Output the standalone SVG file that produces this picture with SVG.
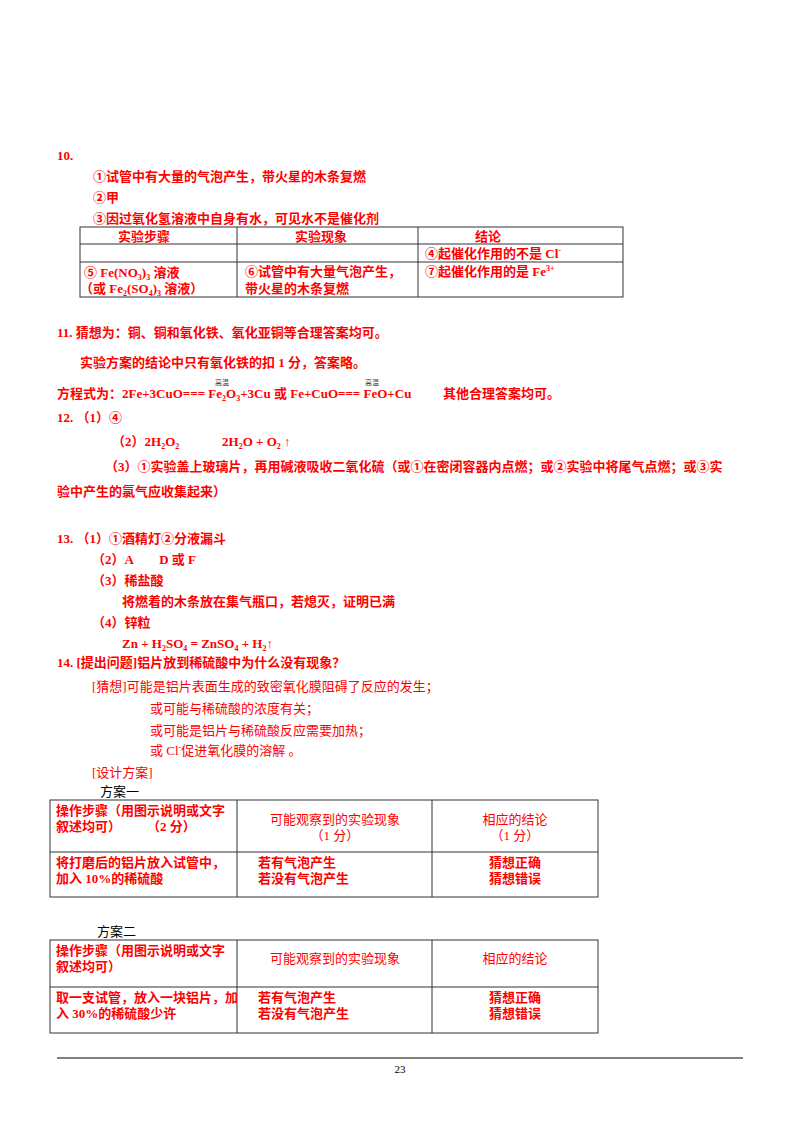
<svg xmlns="http://www.w3.org/2000/svg" width="800" height="1132" viewBox="0 0 800 1132">
<style>
text{font-family:"Liberation Serif","Noto Sans CJK SC",serif;font-size:13px;fill:#f00;font-weight:bold}
.n{font-weight:normal}
.k{fill:#000;font-weight:normal}
.s{font-size:7px;fill:#444;font-weight:normal}
.c{text-anchor:middle}
line,rect{stroke:#333;stroke-width:1;fill:none}
</style>
<rect width="800" height="1132" fill="#fff" style="stroke:none"/>
<g id="q10">
<text x="57" y="160">10.</text>
<text x="93" y="181">①试管中有大量的气泡产生，带火星的木条复燃</text>
<text x="93" y="202">②甲</text>
<text x="93" y="223">③因过氧化氢溶液中自身有水，可见水不是催化剂</text>
</g>
<g id="table1">
<rect x="80" y="227" width="543" height="70"/>
<line x1="80" y1="244" x2="623" y2="244"/>
<line x1="80" y1="262" x2="623" y2="262"/>
<line x1="237" y1="227" x2="237" y2="297"/>
<line x1="418" y1="227" x2="418" y2="297"/>
<text x="118" y="241">实验步骤</text>
<text x="295" y="241">实验现象</text>
<text x="475" y="241">结论</text>
<text x="425" y="258">④起催化作用的不是 Cl<tspan font-size="8" dy="-5">-</tspan></text>
<text x="84" y="277">⑤ Fe(NO<tspan font-size="8" dy="3">3</tspan><tspan dy="-3">)</tspan><tspan font-size="8" dy="3">3</tspan><tspan dy="-3"> 溶液</tspan></text>
<text x="80" y="293">（或 Fe<tspan font-size="8" dy="3">2</tspan><tspan dy="-3">(SO</tspan><tspan font-size="8" dy="3">4</tspan><tspan dy="-3">)</tspan><tspan font-size="8" dy="3">3</tspan><tspan dy="-3"> 溶液）</tspan></text>
<text x="245" y="276">⑥试管中有大量气泡产生，</text>
<text x="245" y="293">带火星的木条复燃</text>
<text x="425" y="276">⑦起催化作用的是 Fe<tspan font-size="8" dy="-5">3+</tspan></text>
</g>
<g id="q11">
<text x="57" y="337">11. 猜想为：铜、铜和氧化铁、氧化亚铜等合理答案均可。</text>
<text x="80" y="367">实验方案的结论中只有氧化铁的扣 1 分，答案略。</text>
<text x="57" y="398">方程式为：2Fe+3CuO=== Fe<tspan font-size="8" dy="3">2</tspan><tspan dy="-3">O</tspan><tspan font-size="8" dy="3">3</tspan><tspan dy="-3">+3Cu 或 Fe+CuO=== FeO+Cu</tspan></text>
<text x="443" y="398">其他合理答案均可。</text>
<text x="215" y="385" class="s">高温</text>
<text x="365" y="385" class="s">高温</text>
</g>
<g id="q12">
<text x="57" y="422">12. （1）④</text>
<text x="112" y="446">（2）2H<tspan font-size="8" dy="3">2</tspan><tspan dy="-3">O</tspan><tspan font-size="8" dy="3">2</tspan></text>
<text x="222" y="446">2H<tspan font-size="8" dy="3">2</tspan><tspan dy="-3">O + O</tspan><tspan font-size="8" dy="3">2</tspan><tspan dy="-3">  ↑</tspan></text>
<text x="105" y="471">（3）①实验盖上玻璃片，再用碱液吸收二氧化硫（或①在密闭容器内点燃；或②实验中将尾气点燃；或③实</text>
<text x="57" y="496">验中产生的氯气应收集起来）</text>
</g>
<g id="q13">
<text x="57" y="543">13. （1）①酒精灯②分液漏斗</text>
<text x="92" y="564">（2）A　　D 或 F</text>
<text x="92" y="585">（3）稀盐酸</text>
<text x="122" y="606">将燃着的木条放在集气瓶口，若熄灭，证明已满</text>
<text x="92" y="627">（4）锌粒</text>
<text x="122" y="648">Zn + H<tspan font-size="8" dy="3">2</tspan><tspan dy="-3">SO</tspan><tspan font-size="8" dy="3">4</tspan><tspan dy="-3"> = ZnSO</tspan><tspan font-size="8" dy="3">4</tspan><tspan dy="-3"> + H</tspan><tspan font-size="8" dy="3">2</tspan><tspan dy="-3">↑</tspan></text>
</g>
<g id="q14">
<text x="57" y="667">14. [提出问题]铝片放到稀硫酸中为什么没有现象？</text>
<text x="92" y="691" class="n">[猜想]可能是铝片表面生成的致密氧化膜阻碍了反应的发生；</text>
<text x="150" y="713" class="n">或可能与稀硫酸的浓度有关；</text>
<text x="150" y="735" class="n">或可能是铝片与稀硫酸反应需要加热；</text>
<text x="150" y="755" class="n">或 Cl<tspan font-size="8" dy="-5">-</tspan><tspan dy="5">促进氧化膜的溶解 。</tspan></text>
<text x="92" y="777" class="n">[设计方案]</text>
<text x="100" y="796" class="k">方案一</text>
</g>
<g id="table2">
<rect x="50" y="800" width="548" height="97"/>
<line x1="50" y1="852" x2="598" y2="852"/>
<line x1="237" y1="800" x2="237" y2="897"/>
<line x1="432" y1="800" x2="432" y2="897"/>
<text x="56" y="815">操作步骤（用图示说明或文字</text>
<text x="56" y="831">叙述均可）　　　（2 分）</text>
<text x="335" y="824" class="c n">可能观察到的实验现象</text>
<text x="335" y="840" class="c n">（1 分）</text>
<text x="515" y="824" class="c n">相应的结论</text>
<text x="515" y="840" class="c n">（1 分）</text>
<text x="56" y="867">将打磨后的铝片放入试管中，</text>
<text x="56" y="883">加入 10%的稀硫酸</text>
<text x="258" y="867">若有气泡产生</text>
<text x="258" y="883">若没有气泡产生</text>
<text x="515" y="867" class="c">猜想正确</text>
<text x="515" y="883" class="c">猜想错误</text>
</g>
<text x="97" y="936" class="k">方案二</text>
<g id="table3">
<rect x="50" y="940" width="548" height="93"/>
<line x1="50" y1="987" x2="598" y2="987"/>
<line x1="237" y1="940" x2="237" y2="1033"/>
<line x1="432" y1="940" x2="432" y2="1033"/>
<text x="56" y="955">操作步骤（用图示说明或文字</text>
<text x="56" y="971">叙述均可）</text>
<text x="335" y="963" class="c n">可能观察到的实验现象</text>
<text x="515" y="963" class="c n">相应的结论</text>
<text x="56" y="1002">取一支试管，放入一块铝片，加</text>
<text x="56" y="1018">入 30%的稀硫酸少许</text>
<text x="258" y="1002">若有气泡产生</text>
<text x="258" y="1018">若没有气泡产生</text>
<text x="515" y="1002" class="c">猜想正确</text>
<text x="515" y="1018" class="c">猜想错误</text>
</g>
<line x1="57" y1="1058" x2="743" y2="1058" style="stroke:#000"/>
<text x="400" y="1073" class="k c" style="font-size:11px">23</text>
</svg>
